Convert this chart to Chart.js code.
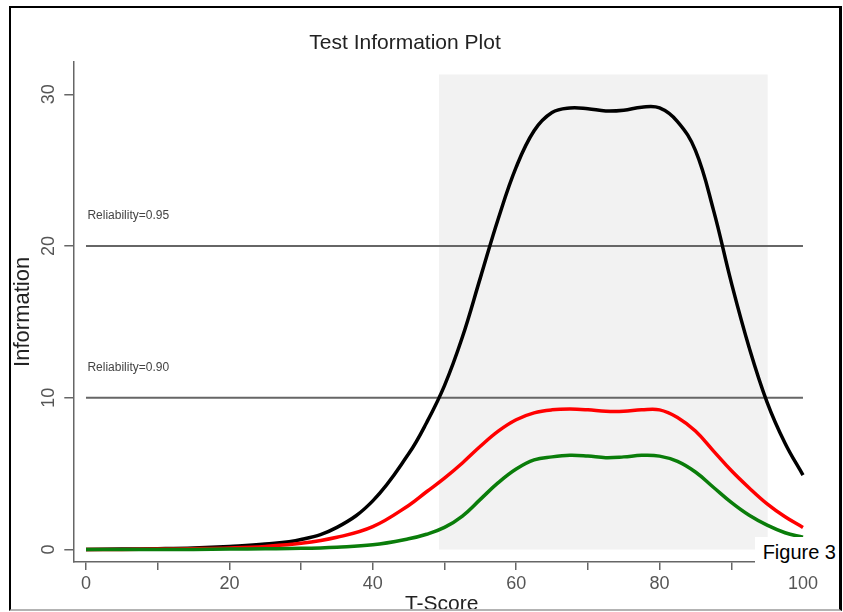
<!DOCTYPE html>
<html>
<head>
<meta charset="utf-8">
<title>Test Information Plot</title>
<script src="https://cdn.jsdelivr.net/npm/chart.js@4.4.1/dist/chart.umd.min.js"></script>
<style>
  html, body { margin: 0; padding: 0; background: #fff; }
  body { width: 843px; height: 612px; position: relative; overflow: hidden; }
  #clip { position: absolute; left: 0; top: 0; width: 843px; height: 609px; overflow: hidden; }
  #chart { display: block; background: #fff; }
  #frame {
    position: absolute; left: 9px; top: 6px; width: 833px; height: 605px;
    box-sizing: border-box; pointer-events: none;
    border: 2px solid #000; border-right-width: 3px; border-bottom-color: #b3b3b3;
  }
  #figLabel {
    position: absolute; left: 755px; top: 537px; width: 83px; height: 35px;
    box-sizing: border-box; padding-right: 2px; background: #fff;
    font: 20px "Liberation Sans", Arial, sans-serif; line-height: 31px;
    text-align: right; color: #000;
  }
</style>
</head>
<body>
<div id="clip"><canvas id="chart" width="843" height="618"></canvas></div>
<div id="frame"></div>
<div id="figLabel">Figure 3</div>
<script>
const tScores = [0, 5, 10, 15, 20, 25, 30, 35, 40, 45, 47.5, 50, 52.5, 55, 57.5, 60, 62.5,
                 65, 67.5, 70, 72.5, 75, 77.5, 80, 82.5, 85, 87.5, 90, 92.5, 95, 97.5, 100];
const infoBlack = [0, 0.02, 0.05, 0.1, 0.2, 0.35, 0.65, 1.45, 3.2, 6.3, 8.35, 10.8, 14.0, 17.9, 21.8, 25.2, 27.6,
                   28.8, 29.1, 29.05, 28.9, 28.95, 29.15, 29.1, 28.2, 26.3, 22.4, 17.6, 13.3, 9.7, 7.0, 4.9];
const infoRed = [0, 0, 0.02, 0.05, 0.1, 0.2, 0.4, 0.8, 1.5, 2.9, 3.8, 4.7, 5.7, 6.8, 7.8, 8.55, 9.0,
                 9.2, 9.25, 9.2, 9.1, 9.1, 9.2, 9.2, 8.7, 7.8, 6.5, 5.2, 4.05, 3.0, 2.15, 1.45];
const infoGreen = [0, 0, 0, 0, 0.02, 0.04, 0.07, 0.15, 0.3, 0.7, 1.0, 1.45, 2.2, 3.3, 4.4, 5.3, 5.9,
                   6.1, 6.2, 6.15, 6.05, 6.1, 6.2, 6.15, 5.8, 5.1, 4.1, 3.1, 2.25, 1.6, 1.1, 0.8];

// reliability reference lines
const relLevels = [20, 10];
const relLabels = ['Reliability=0.95', 'Reliability=0.90'];

// shaded T-score band
const bandRange = [49.2, 95.1];
const bandTop = 31.3;

const xTickValues = [0, 10, 20, 30, 40, 50, 60, 70, 80, 90, 100];
const yTickValues = [0, 10, 20, 30];

const toPoints = ys => ys.map((y, i) => ({ x: tScores[i], y: y }));

function curve(values, color, order) {
    return {
        data: toPoints(values),
        borderColor: color,
        borderWidth: 3.5,
        pointRadius: 0,
        tension: 0.4,
        fill: false,
        order: order
    };
}

const refLines = relLevels.map(level => ({
    data: [{ x: 0, y: level }, { x: 100, y: level }],
    borderColor: '#666',
    borderWidth: 2,
    pointRadius: 0,
    fill: false,
    order: 5
}));

const band = {
    data: bandRange.map(x => ({ x: x, y: bandTop })),
    borderWidth: 0,
    borderColor: 'rgba(0,0,0,0)',
    backgroundColor: '#f2f2f2',
    pointRadius: 0,
    fill: 'origin',
    order: 10
};

// writes the "Reliability=" notes just above each reference line
const relLabelPlugin = {
    id: 'relLabels',
    afterDatasetsDraw(chart) {
        const ctx = chart.ctx;
        const xs = chart.scales.x, ys = chart.scales.y;
        ctx.save();
        ctx.font = '12px "Liberation Sans", Arial, sans-serif';
        ctx.fillStyle = '#444';
        ctx.textAlign = 'left';
        ctx.textBaseline = 'middle';
        relLevels.forEach((level, i) => {
            ctx.fillText(relLabels[i], xs.getPixelForValue(0.2), ys.getPixelForValue(level + 2));
        });
        ctx.restore();
    }
};

const axisFont = { family: '"Liberation Sans", Arial, sans-serif', size: 18 };

new Chart(document.getElementById('chart'), {
    type: 'line',
    data: {
        datasets: [
            curve(infoGreen, '#0a7d0a', 0),
            curve(infoRed, '#ff0000', 1),
            curve(infoBlack, '#000000', 2),
            ...refLines,
            band
        ]
    },
    options: {
        responsive: false,
        animation: false,
        layout: { padding: { left: 0, right: 33, top: 0, bottom: 0 } },
        plugins: {
            legend: { display: false },
            tooltip: { enabled: false },
            title: {
                display: true,
                text: 'Test Information Plot',
                color: '#222',
                font: { family: '"Liberation Sans", Arial, sans-serif', size: 21, weight: 'normal' },
                padding: { top: 31, bottom: 5.5 }
            }
        },
        scales: {
            x: {
                type: 'linear',
                min: -1.77,
                max: 100.98,
                afterBuildTicks: axis => { axis.ticks = xTickValues.map(v => ({ value: v })); },
                afterFit: axis => { axis.height = 56; },
                ticks: {
                    autoSkip: false,
                    maxRotation: 0,
                    padding: 3,
                    color: '#555',
                    font: axisFont,
                    callback: v => (v % 20 === 0 ? String(v) : '')
                },
                grid: { drawOnChartArea: false, drawTicks: true, tickLength: 8, color: '#666', lineWidth: 1.5 },
                border: { display: true, color: '#666', width: 1.5 },
                title: {
                    display: true,
                    text: 'T-Score',
                    color: '#222',
                    font: { family: '"Liberation Sans", Arial, sans-serif', size: 21 },
                    padding: { top: 0, bottom: 1 }
                }
            },
            y: {
                type: 'linear',
                min: -0.83,
                max: 32.15,
                afterBuildTicks: axis => { axis.ticks = yTickValues.map(v => ({ value: v })); },
                afterFit: axis => { axis.width = 73.3; },
                ticks: {
                    minRotation: 90,
                    maxRotation: 90,
                    crossAlign: 'center',
                    padding: 5,
                    color: '#555',
                    font: axisFont
                },
                grid: { drawOnChartArea: false, drawTicks: true, tickLength: 9, color: '#666', lineWidth: 1.5 },
                border: { display: true, color: '#666', width: 1.5 },
                title: {
                    display: true,
                    text: 'Information',
                    color: '#222',
                    font: { family: '"Liberation Sans", Arial, sans-serif', size: 22 },
                    padding: { top: 10, bottom: 0 }
                }
            }
        }
    },
    plugins: [relLabelPlugin]
});
</script>
</body>
</html>
